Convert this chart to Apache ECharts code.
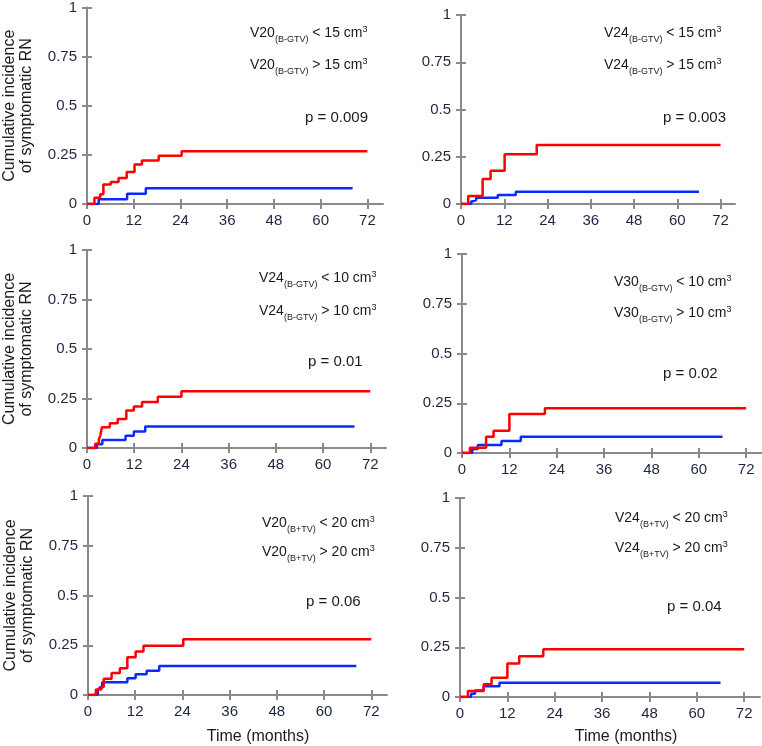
<!DOCTYPE html>
<html>
<head>
<meta charset="utf-8">
<script src="https://cdn.jsdelivr.net/npm/echarts@6/dist/echarts.min.js"></script>
<style>
html,body{margin:0;padding:0;background:#fff;}
#chart{width:762px;height:746px;}
</style>
</head>
<body>
<div id="chart"></div>
<script>
// Tick values
const xTicks = [0, 12, 24, 36, 48, 60, 72];
const yTicks = [0, 0.25, 0.5, 0.75, 1];

// Panel 1: V20(B-GTV), threshold 15
const p1High = [[0,0],[1.9,0.032],[3.4,0.05],[4.2,0.099],[6.1,0.112],[8.1,0.132],[10.2,0.163],[12.2,0.201],[14.1,0.222],[18.4,0.245],[24.3,0.268],[72,0.268]];
const p1Low  = [[0,0],[3.0,0.024],[10.3,0.052],[15.1,0.08],[68.2,0.08]];
// Panel 2: V24(B-GTV), threshold 15
const p2High = [[0,0],[2.0,0.042],[6.0,0.132],[8.2,0.176],[12.1,0.263],[21.0,0.312],[72,0.312]];
const p2Low  = [[0,0],[2.8,0.012],[3.3,0.021],[4.2,0.033],[10.2,0.048],[15.2,0.065],[66,0.065]];
// Panel 3: V24(B-GTV), threshold 10
const p3High = [[0,0],[2.1,0.022],[3.0,0.042],[3.4,0.064],[3.8,0.105],[5.8,0.125],[7.8,0.146],[10.0,0.19],[11.9,0.21],[14.0,0.232],[18.0,0.259],[24.0,0.286],[72,0.286]];
const p3Low  = [[0,0],[2.5,0.019],[3.9,0.04],[9.8,0.062],[11.9,0.083],[14.8,0.108],[68,0.108]];
// Panel 4: V30(B-GTV), threshold 10
const p4High = [[0,0],[2.0,0.027],[6.1,0.082],[8.0,0.112],[12.0,0.196],[21.0,0.225],[72,0.225]];
const p4Low  = [[0,0],[2.6,0.02],[4.0,0.04],[10.0,0.06],[14.9,0.082],[66,0.082]];
// Panel 5: V20(B+TV), threshold 20
const p5High = [[0,0],[2.0,0.028],[3.4,0.04],[4.0,0.082],[6.0,0.11],[8.1,0.135],[10.0,0.19],[12.1,0.218],[14.1,0.248],[24.2,0.28],[72,0.28]];
const p5Low  = [[0,0],[2.5,0.02],[3.0,0.039],[3.6,0.064],[10.0,0.084],[12.1,0.104],[14.9,0.122],[18.1,0.146],[68.2,0.146]];
// Panel 6: V24(B+TV), threshold 20
const p6High = [[0,0],[2.0,0.03],[6.0,0.064],[8.0,0.097],[12.0,0.168],[15.0,0.205],[21.1,0.24],[72,0.24]];
const p6Low  = [[0,0],[2.8,0.016],[3.8,0.033],[6.0,0.054],[10.0,0.072],[66,0.072]];

// Legend texts
const doses   = ['V20', 'V24', 'V24', 'V30', 'V20', 'V24'];
const volumes = ['(B-GTV)', '(B-GTV)', '(B-GTV)', '(B-GTV)', '(B+TV)', '(B+TV)'];
const cuts    = ['15', '15', '10', '10', '20', '20'];
const pvals   = ['p = 0.009', 'p = 0.003', 'p = 0.01', 'p = 0.02', 'p = 0.06', 'p = 0.04'];

const highSeries = [p1High, p2High, p3High, p4High, p5High, p6High];
const lowSeries  = [p1Low, p2Low, p3Low, p4Low, p5Low, p6Low];

// layout
const grids = [
  {left: 82,  top: 5,   width: 301, height: 199},
  {left: 461, top: 15,  width: 274, height: 189},
  {left: 87,  top: 250, width: 299, height: 198},
  {left: 462, top: 254, width: 301, height: 199},
  {left: 88,  top: 496, width: 299, height: 199},
  {left: 460, top: 498, width: 300, height: 199}
];
const legendPos = [
  {x: 250, y1: 33,  y2: 65,  px: 305, py: 118},
  {x: 604, y1: 33,  y2: 65,  px: 663, py: 118},
  {x: 259, y1: 278, y2: 311, px: 308, py: 362},
  {x: 614, y1: 282, y2: 313, px: 663, py: 374},
  {x: 262, y1: 523, y2: 552, px: 306, py: 602},
  {x: 615, y1: 518, y2: 548, px: 667, py: 607}
];

const FONT = '"Liberation Sans", Arial, sans-serif';
const AXIS_COLOR = '#8a8a8a';
const LABEL_COLOR = '#1e2640';
const TEXT_COLOR = '#1a1a1a';
const RED = '#ff0000';
const BLUE = '#0a2bff';
const XMAX = 76;

const xAxes = [], yAxes = [], series = [], graphics = [];
grids.forEach((g, i) => {
  const isLeft = (i % 2 === 0);
  xAxes.push({
    type: 'value', gridIndex: i, min: 0, max: XMAX, position: 'bottom',
    axisLine: {show: true, onZero: false, lineStyle: {color: AXIS_COLOR, width: 2}},
    axisTick: {show: true, customValues: xTicks, length: 5, lineStyle: {color: AXIS_COLOR, width: 2}},
    axisLabel: {show: true, customValues: xTicks, margin: 9, color: LABEL_COLOR, fontSize: 15, fontFamily: FONT},
    splitLine: {show: false}
  });
  xAxes.push({
    type: 'value', gridIndex: i, min: 0, max: XMAX, position: 'bottom',
    axisLine: {show: false},
    axisTick: {show: true, inside: true, customValues: xTicks, length: 5, lineStyle: {color: AXIS_COLOR, width: 2}},
    axisLabel: {show: false},
    splitLine: {show: false}
  });
  const yMain = {
    type: 'value', gridIndex: i, min: 0, max: 1, interval: 0.25, position: 'left',
    axisLine: {show: true, onZero: false, lineStyle: {color: AXIS_COLOR, width: 2}},
    axisTick: {show: true, length: 5, lineStyle: {color: AXIS_COLOR, width: 2}},
    axisLabel: {show: true, margin: 10, color: LABEL_COLOR, fontSize: 15, fontFamily: FONT},
    splitLine: {show: false}
  };
  if (isLeft) {
    yMain.name = 'Cumulative incidence\nof symptomatic RN';
    yMain.nameLocation = 'middle';
    yMain.nameRotate = 90;
    yMain.nameGap = 52;
    yMain.nameTextStyle = {fontSize: 16, fontFamily: FONT, color: TEXT_COLOR, lineHeight: 17};
  }
  yAxes.push(yMain);
  yAxes.push({
    type: 'value', gridIndex: i, min: 0, max: 1, interval: 0.25, position: 'left',
    axisLine: {show: false},
    axisTick: {show: true, inside: true, length: 5, lineStyle: {color: AXIS_COLOR, width: 2}},
    axisLabel: {show: false},
    splitLine: {show: false}
  });
  series.push({
    type: 'line', step: 'end', xAxisIndex: i * 2, yAxisIndex: i * 2,
    data: lowSeries[i], showSymbol: false, symbol: 'none',
    lineStyle: {color: BLUE, width: 2.5}, itemStyle: {color: BLUE}, animation: false, z: 2
  });
  series.push({
    type: 'line', step: 'end', xAxisIndex: i * 2, yAxisIndex: i * 2,
    data: highSeries[i], showSymbol: false, symbol: 'none',
    lineStyle: {color: RED, width: 2.5}, itemStyle: {color: RED}, animation: false, z: 3
  });

  const rich = {
    m: {fontSize: 14, fontFamily: FONT, fill: TEXT_COLOR, color: TEXT_COLOR, lineHeight: 22},
    s: {fontSize: 9, fontFamily: FONT, fill: TEXT_COLOR, color: TEXT_COLOR, lineHeight: 9, verticalAlign: 'bottom', padding: [0, 0, 0, 0]},
    u: {fontSize: 9, fontFamily: FONT, fill: TEXT_COLOR, color: TEXT_COLOR, lineHeight: 9, verticalAlign: 'top', padding: [3, 0, 0, 0]}
  };
  const lp = legendPos[i];
  ['<', '>'].forEach((op, k) => {
    graphics.push({
      type: 'text', x: lp.x, y: k === 0 ? lp.y1 : lp.y2,
      style: {
        text: '{m|' + doses[i] + '}{s|' + volumes[i] + '}{m| ' + op + ' ' + cuts[i] + ' cm}{u|3}',
        rich: rich, align: 'left', verticalAlign: 'middle'
      }
    });
  });
  graphics.push({
    type: 'text', x: lp.px, y: lp.py,
    style: {text: pvals[i], font: '15px ' + FONT, fill: TEXT_COLOR, align: 'left', verticalAlign: 'middle'}
  });
});

graphics.push({type: 'text', x: 258, y: 737, style: {text: 'Time (months)', font: '16px ' + FONT, fill: TEXT_COLOR, align: 'center', verticalAlign: 'middle'}});
graphics.push({type: 'text', x: 626, y: 737, style: {text: 'Time (months)', font: '16px ' + FONT, fill: TEXT_COLOR, align: 'center', verticalAlign: 'middle'}});

const chart = echarts.init(document.getElementById('chart'), null, {renderer: 'canvas'});
chart.setOption({
  animation: false,
  backgroundColor: '#ffffff',
  grid: grids.map(g => Object.assign({containLabel: false}, g)),
  xAxis: xAxes,
  yAxis: yAxes,
  series: series,
  graphic: graphics
});
</script>
</body>
</html>
